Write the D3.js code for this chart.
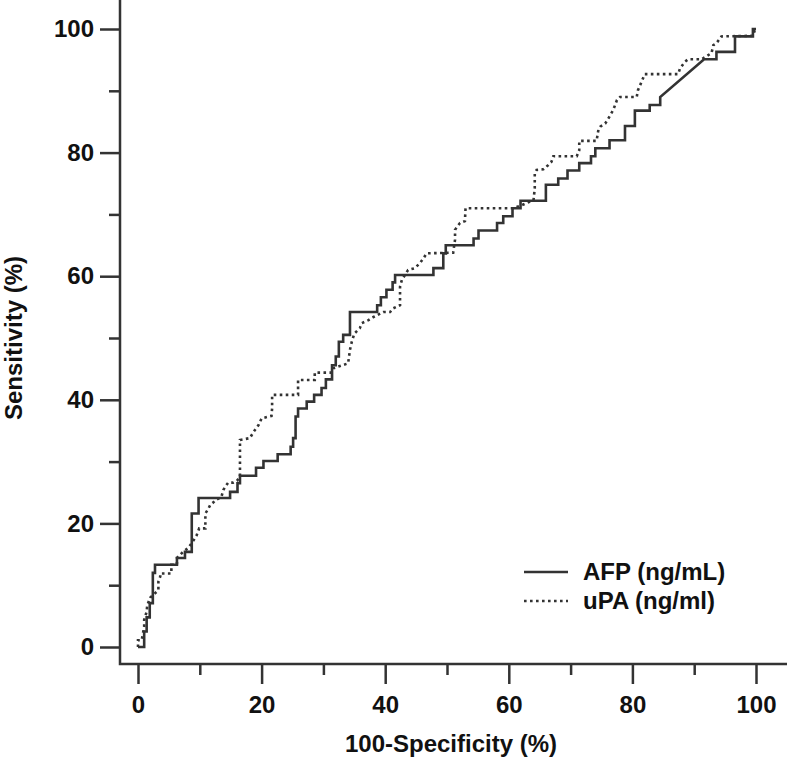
<!DOCTYPE html>
<html>
<head>
<meta charset="utf-8">
<script src="https://cdn.jsdelivr.net/npm/d3@7"></script>
<style>
  body { margin: 0; background: #fff; }
  text { font-family: "Liberation Sans", Arial, sans-serif; font-weight: bold; fill: #111; }
</style>
</head>
<body>
<svg id="chart" width="787" height="757"></svg>
<script>
// ROC points (100-Specificity %, Sensitivity %)
var afpX = [0, 1.0, 1.0, 1.4, 1.4, 1.9, 1.9, 2.4, 2.4, 2.75, 2.75, 6.3, 6.3, 7.6, 7.6, 8.7, 8.7, 9.8, 9.8, 14.9,
    14.9, 16.1, 16.1, 16.5, 16.5, 19.1, 19.1, 20.3, 20.3, 22.6, 22.6, 24.7, 24.7, 25.1, 25.1, 25.5, 25.5, 25.9, 25.9, 27.3,
    27.3, 28.5, 28.5, 29.7, 29.7, 30.4, 30.4, 31.4, 31.4, 32.0, 32.0, 32.5, 32.5, 33.2, 33.2, 34.3, 34.3, 38.7, 38.7, 39.3,
    39.3, 40.2, 40.2, 41.2, 41.2, 41.6, 41.6, 47.8, 47.8, 49.4, 49.4, 49.8, 49.8, 54.3, 54.3, 55.1, 55.1, 58.1, 58.1, 59.1,
    59.1, 60.6, 60.6, 61.9, 61.9, 66.0, 66.0, 68.0, 68.0, 69.5, 69.5, 71.4, 71.4, 73.3, 73.3, 74.0, 74.0, 76.3, 76.3, 78.8,
    78.8, 80.4, 80.4, 82.8, 82.8, 84.5, 84.5, 91.6, 93.6, 93.6, 96.6, 96.6, 99.5, 99.5, 100];
var afpY = [0, 0, 2.5, 2.5, 4.8, 4.8, 7.1, 7.1, 12.0, 12.0, 13.3, 13.3, 14.4, 14.4, 15.4, 15.4, 21.6, 21.6, 24.1, 24.1,
    25.1, 25.1, 26.5, 26.5, 27.7, 27.7, 29.0, 29.0, 30.1, 30.1, 31.2, 31.2, 32.4, 32.4, 33.8, 33.8, 37.3, 37.3, 38.6, 38.6,
    39.7, 39.7, 40.8, 40.8, 41.9, 41.9, 43.3, 43.3, 45.6, 45.6, 47.0, 47.0, 49.4, 49.4, 50.5, 50.5, 54.2, 54.2, 55.3, 55.3,
    56.6, 56.6, 57.8, 57.8, 59.0, 59.0, 60.2, 60.2, 61.3, 61.3, 63.7, 63.7, 65.0, 65.0, 66.1, 66.1, 67.4, 67.4, 68.6, 68.6,
    69.7, 69.7, 71.0, 71.0, 72.2, 72.2, 74.8, 74.8, 75.8, 75.8, 77.1, 77.1, 78.3, 78.3, 79.4, 79.4, 80.7, 80.7, 82.0, 82.0,
    84.3, 84.3, 86.8, 86.8, 87.7, 87.7, 89.0, 95.1, 95.1, 96.3, 96.3, 98.8, 98.8, 100, 100];

var upaX = [0, 0, 0.6, 1.0, 1.0, 1.4, 1.5, 2.0, 3.3, 3.3, 3.6, 3.6, 5.4, 5.4, 6.3, 6.3, 7.3, 8.1, 8.9, 9.5,
    9.9, 10.9, 10.9, 11.4, 11.7, 12.2, 12.6, 13.5, 13.8, 14.3, 14.6, 15.4, 16.0, 16.5, 16.5, 18.1, 18.7, 19.5, 20.0, 21.6,
    21.7, 21.7, 25.9, 25.9, 28.6, 28.6, 31.3, 31.6, 34.0, 34.3, 34.6, 35.0, 35.9, 36.2, 37.3, 38.1, 39.7, 40.8, 41.3, 42.4,
    42.4, 42.7, 43.7, 44.8, 45.6, 46.2, 46.7, 51.0, 51.3, 51.3, 52.1, 52.9, 53.0, 60.7, 62.1, 64.0, 64.2, 64.2, 64.5, 65.6,
    66.4, 66.9, 67.2, 71.0, 71.4, 71.4, 74.2, 74.5, 74.8, 75.6, 76.1, 76.9, 77.5, 78.0, 80.7, 80.9, 81.5, 82.0, 87.4, 87.7,
    88.5, 89.0, 91.2, 92.8, 93.1, 93.6, 94.4, 99.5, 99.8, 100];
var upaY = [0, 1.1, 1.1, 3.3, 4.4, 5.7, 6.8, 8.0, 9.2, 10.6, 11.4, 11.9, 11.9, 13.3, 13.3, 14.4, 15.4, 16.0, 17.1, 18.1,
    19.2, 19.2, 21.6, 22.4, 23.0, 23.4, 23.8, 24.3, 25.4, 26.2, 26.6, 26.6, 26.9, 27.5, 33.5, 33.8, 34.8, 35.9, 37.0, 37.4,
    38.6, 40.8, 40.8, 43.2, 43.2, 44.4, 44.4, 45.1, 45.9, 48.1, 49.4, 50.7, 51.6, 52.4, 52.9, 53.4, 54.2, 54.2, 54.8, 55.3,
    58.3, 59.4, 61.0, 61.3, 62.1, 62.9, 63.7, 63.8, 65.9, 67.5, 68.6, 68.9, 71.0, 71.0, 71.5, 72.3, 74.2, 76.6, 77.2, 77.3,
    78.0, 78.5, 79.4, 79.4, 80.4, 81.9, 81.9, 83.7, 84.2, 84.7, 85.5, 86.9, 88.5, 89.0, 89.0, 90.1, 91.5, 92.7, 92.7, 93.6,
    94.7, 95.1, 95.1, 96.1, 97.4, 97.7, 98.8, 98.9, 99.8, 100];

var seriesNames = ["AFP (ng/mL)", "uPA (ng/ml)"];
var majorTicks = [0, 20, 40, 60, 80, 100];
var minorTicks = [10, 30, 50, 70, 90];

var svg = d3.select("#chart");
var ink = "#333333";

var x = d3.scaleLinear().domain([0, 100]).range([138, 756]);
var y = d3.scaleLinear().domain([0, 100]).range([647, 29]);

var axisX = 120, axisY = 664;

// axis lines
svg.append("path")
    .attr("d", "M" + axisX + ",0V" + axisY + "H787")
    .attr("fill", "none")
    .attr("stroke", ink)
    .attr("stroke-width", 2.5);

// x axis ticks
var gx = svg.append("g").attr("transform", "translate(0," + axisY + ")");
gx.call(d3.axisBottom(x).tickValues(majorTicks).tickSize(20).tickPadding(12).tickFormat(d3.format("d")));
gx.call(g => g.select(".domain").remove());
gx.selectAll(".tick line").attr("stroke", ink).attr("stroke-width", 2.5);
gx.selectAll(".tick text").style("font-size", "24px").attr("fill", "#111");
var gx2 = svg.append("g").attr("transform", "translate(0," + axisY + ")");
gx2.call(d3.axisBottom(x).tickValues(minorTicks).tickSize(11).tickFormat(""));
gx2.call(g => g.select(".domain").remove());
gx2.selectAll(".tick line").attr("stroke", ink).attr("stroke-width", 2.5);

// y axis ticks
var gy = svg.append("g").attr("transform", "translate(" + axisX + ",0)");
gy.call(d3.axisLeft(y).tickValues(majorTicks).tickSize(20).tickPadding(6).tickFormat(d3.format("d")));
gy.call(g => g.select(".domain").remove());
gy.selectAll(".tick line").attr("stroke", ink).attr("stroke-width", 2.5);
gy.selectAll(".tick text").style("font-size", "24px").attr("fill", "#111");
var gy2 = svg.append("g").attr("transform", "translate(" + axisX + ",0)");
gy2.call(d3.axisLeft(y).tickValues(minorTicks).tickSize(11).tickFormat(""));
gy2.call(g => g.select(".domain").remove());
gy2.selectAll(".tick line").attr("stroke", ink).attr("stroke-width", 2.5);

// axis titles
svg.append("text")
    .attr("x", 451).attr("y", 752)
    .attr("text-anchor", "middle")
    .style("font-size", "24px")
    .text("100-Specificity (%)");

svg.append("text")
    .attr("transform", "translate(22,338) rotate(-90)")
    .attr("text-anchor", "middle")
    .style("font-size", "24px")
    .text("Sensitivity (%)");

// curves
var line = d3.line()
    .x(d => x(d[0]))
    .y(d => y(d[1]));

var afp = afpX.map((v, i) => [v, afpY[i]]);
var upa = upaX.map((v, i) => [v, upaY[i]]);

svg.append("path")
    .datum(upa)
    .attr("d", line)
    .attr("fill", "none")
    .attr("stroke", ink)
    .attr("stroke-width", 2.6)
    .attr("stroke-dasharray", "2.6,3.4");

svg.append("path")
    .datum(afp)
    .attr("d", line)
    .attr("fill", "none")
    .attr("stroke", ink)
    .attr("stroke-width", 2.6);

// legend
var legend = svg.append("g");
var dashes = [null, "2.6,3.4"];
seriesNames.forEach((name, i) => {
    var ly = 572 + i * 29;
    legend.append("line")
        .attr("x1", 524).attr("x2", 568)
        .attr("y1", ly).attr("y2", ly)
        .attr("stroke", ink)
        .attr("stroke-width", 2.6)
        .attr("stroke-dasharray", dashes[i]);
    legend.append("text")
        .attr("x", 583).attr("y", ly + 8)
        .style("font-size", "24px")
        .text(name);
});
</script>
</body>
</html>
